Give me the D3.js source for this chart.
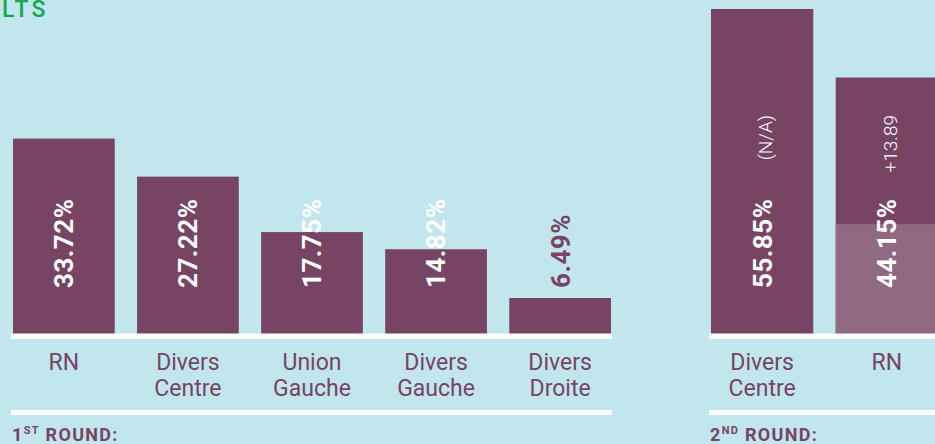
<!DOCTYPE html>
<html>
<head>
<meta charset="utf-8">
<script src="https://cdn.jsdelivr.net/npm/d3@7"></script>
<style>
  html, body { margin: 0; padding: 0; background: #c1e6ed; overflow: hidden; }
  svg { display: block; font-family: Roboto, "Noto Sans", sans-serif; }
</style>
</head>
<body>
<div id="chart"></div>
<script>
// 1st round
var round1Parties = ["RN", "Divers Centre", "Union Gauche", "Divers Gauche", "Divers Droite"];
var round1Values = [33.72, 27.22, 17.75, 14.82, 6.49];
// 2nd round
var round2Parties = ["Divers Centre", "RN"];
var round2Values = [55.85, 44.15];
var round2Base = [0, 19.1];          // lighter lower part of the bar
var round2Change = ["(N/A)", "+13.89"];

var width = 935, height = 444;
var purple = "#774463", lightPurple = "#926983", green = "#12a94f";

var svg = d3.select("#chart")
            .append("svg")
            .attr("width", width)
            .attr("height", height);

svg.append("rect")
   .attr("width", width)
   .attr("height", height)
   .attr("fill", "#c1e6ed");

// title (cropped in the reference)
svg.append("text")
   .attr("x", 2)
   .attr("y", 17)
   .attr("fill", green)
   .attr("font-size", 23)
   .attr("font-weight", 500)
   .attr("letter-spacing", 3)
   .text("LTS");

// shared value scale
var yScale = d3.scaleLinear()
               .domain([0, 55.85])
               .range([336, 9]);

function drawPanel(parties, values, base, change, x0, x1, roundNum, roundSup) {
  var xScale = d3.scaleBand()
                 .domain(parties)
                 .range([x0, x1])
                 .paddingInner(0.18)
                 .paddingOuter(0);
  var g = svg.append("g");
  var rows = parties.map(function(p, i) {
    return {party: p, value: values[i], base: base ? base[i] : 0, change: change ? change[i] : null};
  });

  // bars
  g.selectAll("rect.bar")
   .data(rows)
   .join("rect")
   .attr("class", "bar")
   .attr("x", d => xScale(d.party))
   .attr("y", d => yScale(d.value))
   .attr("width", xScale.bandwidth())
   .attr("height", d => yScale(0) - yScale(d.value))
   .attr("fill", purple);

  // lighter lower part
  g.selectAll("rect.base")
   .data(rows.filter(d => d.base > 0))
   .join("rect")
   .attr("class", "base")
   .attr("x", d => xScale(d.party))
   .attr("y", d => yScale(d.base))
   .attr("width", xScale.bandwidth())
   .attr("height", d => yScale(0) - yScale(d.base))
   .attr("fill", lightPurple);

  // white rules
  g.append("rect")
   .attr("x", x0 - 2)
   .attr("y", 333.5)
   .attr("width", x1 - x0 + 3)
   .attr("height", 5.5)
   .attr("fill", "#ffffff");
  g.append("rect")
   .attr("x", x0 - 2)
   .attr("y", 410)
   .attr("width", x1 - x0 + 3)
   .attr("height", 5)
   .attr("fill", "#ffffff");

  // value labels (rotated)
  g.selectAll("text.value")
   .data(rows)
   .join("text")
   .attr("class", "value")
   .attr("transform", d => "translate(" + (xScale(d.party) + xScale.bandwidth() / 2) + ",288) rotate(-90)")
   .attr("dy", "0.36em")
   .attr("font-size", 26)
   .attr("font-weight", 700)
   .attr("letter-spacing", 0.5)
   .attr("fill", d => d.value >= 10 ? "#ffffff" : purple)
   .text(d => d.value.toFixed(2) + "%");

  // change labels
  g.selectAll("text.change")
   .data(rows.filter(d => d.change))
   .join("text")
   .attr("class", "change")
   .attr("transform", d => "translate(" + (xScale(d.party) + xScale.bandwidth() / 2 + 3) + ",115) rotate(-90)")
   .attr("dy", "0.36em")
   .attr("text-anchor", "end")
   .attr("font-size", 19)
   .attr("font-weight", 300)
   .attr("fill", "#ffffff")
   .text(d => d.change);

  // category labels
  var cat = g.selectAll("text.cat")
             .data(rows)
             .join("text")
             .attr("class", "cat")
             .attr("x", d => xScale(d.party) + xScale.bandwidth() / 2)
             .attr("y", 370)
             .attr("text-anchor", "middle")
             .attr("font-size", 23)
             .attr("fill", purple);
  cat.selectAll("tspan")
     .data(d => d.party.split(" "))
     .join("tspan")
     .attr("x", function() { return d3.select(this.parentNode).attr("x"); })
     .attr("dy", (d, i) => i === 0 ? 0 : 26)
     .text(d => d);

  // round caption
  var cap = g.append("text")
             .attr("x", x0 - 1)
             .attr("y", 441)
             .attr("font-size", 18)
             .attr("font-weight", 700)
             .attr("letter-spacing", 1.3)
             .attr("fill", purple);
  cap.append("tspan").text(roundNum);
  cap.append("tspan").attr("font-size", 11).attr("dy", -7).text(roundSup);
  cap.append("tspan").attr("dy", 7).text(" ROUND:");
}

drawPanel(round1Parties, round1Values, null, null, 13, 611, "1", "ST");
drawPanel(round2Parties, round2Values, round2Base, round2Change, 711, 938, "2", "ND");
</script>
</body>
</html>
